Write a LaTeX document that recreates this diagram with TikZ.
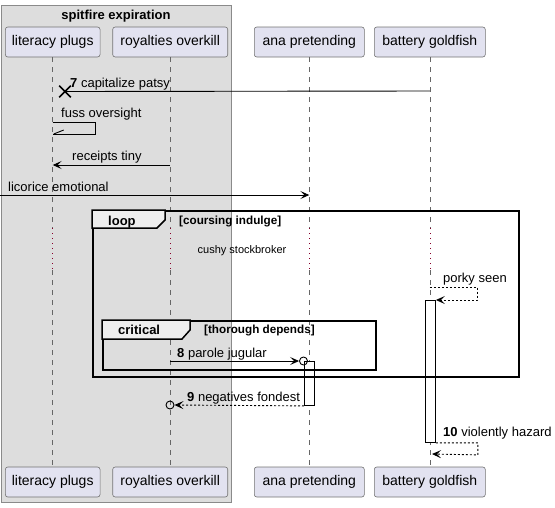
\documentclass[tikz,border=0pt]{standalone}
\usepackage{fontspec}
\setmainfont{Liberation Sans}
\usetikzlibrary{arrows.meta,calc,shapes.misc}
\definecolor{partfill}{HTML}{E2E2F0}
\definecolor{grpfill}{HTML}{DDDDDD}
\definecolor{grpborder}{HTML}{8A8A8A}
\definecolor{tabfill}{HTML}{EEEEEE}
\definecolor{delayred}{HTML}{A80036}
\begin{document}
\begin{tikzpicture}[x=1pt,y=-1pt,
  part/.style={draw=black!55, line width=0.6pt, fill=partfill, rounded corners=2.5pt, minimum height=30pt, inner sep=0pt, font=\fontsize{14}{16}\selectfont},
  life/.style={draw=black!60, line width=0.6pt, dash pattern=on 5pt off 5pt},
  delayline/.style={draw=delayred!80!black, line width=0.6pt, dash pattern=on 1pt off 4pt},
  msg/.style={draw=black, line width=0.9pt},
  ret/.style={msg, dash pattern=on 2pt off 2pt},
  lbl/.style={anchor=base west, inner sep=0pt, font=\fontsize{13}{15}\selectfont},
  frm/.style={draw=black, line width=1.5pt, anchor=north west, inner sep=0pt},
  tabshape/.style={draw=black, line width=1.5pt, fill=tabfill, line join=miter},
  tabtxt/.style={anchor=base west, inner sep=0pt, font=\fontsize{13}{15}\selectfont\bfseries},
  guard/.style={anchor=base west, inner sep=0pt, font=\fontsize{11.7}{13}\selectfont\bfseries},
  act/.style={draw=black, line width=0.9pt, fill=white, minimum width=10pt, inner sep=0pt, anchor=north west},
  ring/.style={circle, draw=black, line width=0.9pt, minimum size=8pt, inner sep=0pt},
  >={Stealth[length=9pt,width=8pt,inset=4pt]},
]
\useasboundingbox (0,0) rectangle (555,507);
% group box
\node[draw=grpborder, fill=grpfill, line width=0.8pt, minimum width=230pt, minimum height=497pt, anchor=north west, inner sep=0pt] (grp) at (1,5) {};
\node[anchor=base, inner sep=0pt, font=\fontsize{13}{15}\selectfont\bfseries] (grpt) at (116,19) {spitfire expiration};
% participants
\node[part, minimum width=94.7pt] (lpT) at (52.7,42) {literacy plugs};
\node[part, minimum width=115pt] (roT) at (170.2,42) {royalties overkill};
\node[part, minimum width=110pt] (apT) at (309.3,42) {ana pretending};
\node[part, minimum width=111pt] (bgT) at (429.8,42) {battery goldfish};
\node[part, minimum width=94.7pt] (lpB) at (52.7,482) {literacy plugs};
\node[part, minimum width=115pt] (roB) at (170.2,482) {royalties overkill};
\node[part, minimum width=110pt] (apB) at (309.3,482) {ana pretending};
\node[part, minimum width=111pt] (bgB) at (429.8,482) {battery goldfish};
% rows
\coordinate (dA) at (0,228);
\coordinate (dB) at (0,270);
\coordinate (r1) at (0,91);
\coordinate (r2) at (0,122);
\coordinate (r2b) at (0,134);
\coordinate (r3) at (0,165);
\coordinate (r5) at (0,287);
\coordinate (r8) at (0,361);
% lifelines
\foreach \p in {lp,ro,ap,bg}{
  \draw[life] (\p T.south) -- (\p T.south |- dA);
  \draw[delayline] (\p T.south |- dA) -- (\p T.south |- dB);
  \draw[life] (\p T.south |- dB) -- (\p B.north);
}
% activations
\node[act, minimum height=44pt] (actA) at (304,361) {};
\node[act, minimum height=142pt] (actB) at (425,300) {};
% frames
\node[frm, minimum width=426pt, minimum height=166pt] (loopF) at (92,210) {};
\draw[tabshape] (loopF.north west) -- ++(73,0) -- ++(0,10) -- ++(-8,8) -- ($(loopF.north west)+(0,18)$) -- cycle;
\node[tabtxt] (loopL) at (108,225) {loop};
\node[guard] (loopG) at (179,224) {[coursing indulge]};
\node[frm, minimum width=273pt, minimum height=49pt] (critF) at (102,320) {};
\draw[tabshape] (critF.north west) -- ++(88,0) -- ++(0,10) -- ++(-8,9) -- ($(critF.north west)+(0,19)$) -- cycle;
\node[tabtxt] (critL) at (118,334) {critical};
\node[guard] (critG) at (204,333) {[thorough depends]};
% delay text
\node[anchor=base, inner sep=0pt, font=\fontsize{11}{13}\selectfont] (dly) at (242,253) {cushy stockbroker};
% message 7
\node[draw=black, cross out, line width=1.6pt, minimum size=10pt, inner sep=0pt] (xm) at (65,91.5) {};
\draw[msg] (bgT |- r1) -- (xm.center);
\node[lbl] (t7) at (70,87) {\textbf{7} capitalize patsy};
% fuss oversight
\draw[msg] (lpT |- r2) -- ++(43,0) -- ++(0,12) -- (lpT |- r2b);
\draw[msg] (lpT |- r2b) ++(1,0) -- ++(10,-4);
\node[lbl] (tfo) at (61,117) {fuss oversight};
% receipts tiny
\draw[msg,->] (roT |- r3) -- (lpT |- r3);
\node[lbl] (trt) at (72,160) {receipts tiny};
% licorice emotional
\coordinate (lft) at (0,195);
\draw[msg,->] (lft) -- (apT |- lft);
\node[lbl] (tle) at (8,191) {licorice emotional};
% porky seen
\draw[ret,->] (bgT |- r5) -- ++(47.5,0) -- ++(0,13) -- (actB.north east);
\node[lbl] (tps) at (443,282) {porky seen};
% parole jugular
\node[ring] (c1) at (303.5,361) {};
\draw[msg,->] (roT |- r8) -- (c1.west);
\node[lbl] (t8) at (177,357) {\textbf{8} parole jugular};
% negatives fondest
\node[ring] (c2) at (170,405) {};
\draw[ret,->] (actA.south west) -- (c2.east);
\node[lbl] (t9) at (187,401) {\textbf{9} negatives fondest};
% violently hazard
\coordinate (v10) at (432,454);
\draw[ret,->] (actB.south east) -- ++(42,0) -- ++(0,12) -- (v10);
\node[lbl] (t10) at (443,436) {\textbf{10} violently hazard};
\end{tikzpicture}
\end{document}
